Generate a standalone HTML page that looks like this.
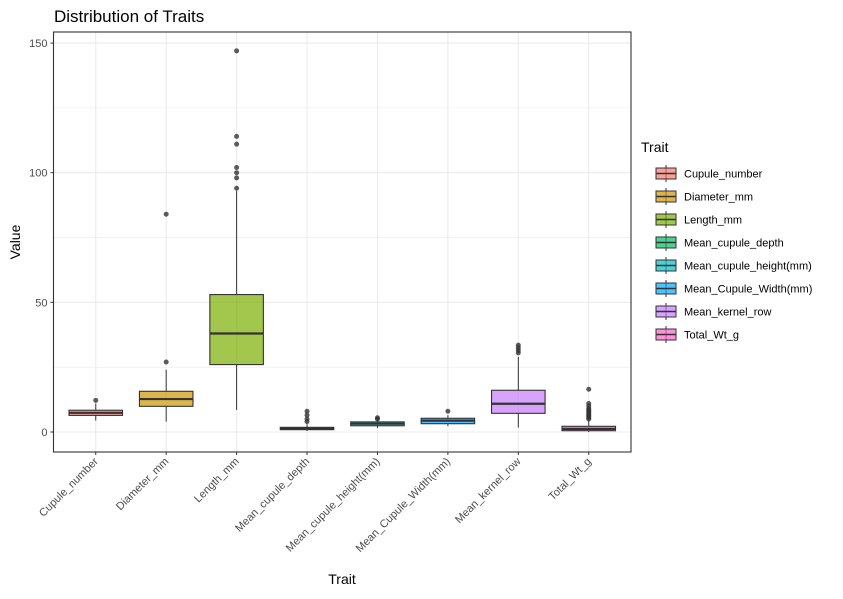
<!DOCTYPE html>
<html><head><meta charset="utf-8"><style>body{margin:0;background:#fff}svg{font-family:"Liberation Sans",sans-serif}</style></head>
<body>
<svg id="c" width="843" height="594" xmlns="http://www.w3.org/2000/svg"></svg>
<script>
const categories=["Cupule_number","Diameter_mm","Length_mm","Mean_cupule_depth","Mean_cupule_height(mm)","Mean_Cupule_Width(mm)","Mean_kernel_row","Total_Wt_g"];
const colors=["#F8766D","#CD9600","#7CAE00","#00BE67","#00BFC4","#00A9FF","#C77CFF","#FF61CC"];
const q1=[6.4,9.9,26,0.9,2.4,3.2,7.2,0.5];
const med=[7.4,12.7,38,1.3,3.2,4.4,10.9,1.2];
const q3=[8.4,15.7,53,1.8,3.9,5.3,16.1,2.2];
const wlo=[4.4,4,8.5,0.4,1.5,2.3,1.7,0];
const whi=[11,24,93,3,4.5,6.5,29,4.5];
const outliers=[[12.2],[27,84],[94,98,100,102,111,114,147],[4,5,6.5,8],[5,5.5],[8],[30.5,31.5,32.5,33.5],[5,5.5,6,6.5,7,7.5,8,8.5,9,10,11,16.5]];
const yTicks=[0,50,100,150];
const L=53.5,R=631,T=32,B=452;
const y=v=>432-v*2.593;
const step=(R-L)/8.2;
const x=i=>L+(i+0.6)*step;
const svg=document.getElementById('c');
const NS="http://www.w3.org/2000/svg";
function mk(t,a,p){const e=document.createElementNS(NS,t);for(const k in a)e.setAttribute(k,a[k]);(p||svg).appendChild(e);return e;}
let e;
e=mk('rect',{x:L,y:T,width:R-L,height:B-T,fill:'#fff'});


// minor grid
for(let v=-25;v<=175;v+=50){if(y(v)>T&&y(v)<B)mk('line',{x1:L,x2:R,y1:y(v),y2:y(v),stroke:'#ebebeb','stroke-width':0.6});}
yTicks.forEach(v=>{e=mk('line',{x1:L,x2:R,y1:y(v),y2:y(v),stroke:'#ebebeb','stroke-width':1.1});


e=mk('line',{x1:L-3,x2:L,y1:y(v),y2:y(v),stroke:'#333'});
e=mk('text',{x:L-6,y:y(v)+4,'text-anchor':'end','font-size':11,fill:'#4d4d4d'});e.textContent=v;

});
categories.forEach((c,i)=>{mk('line',{x1:x(i),x2:x(i),y1:T,y2:B,stroke:'#ebebeb','stroke-width':1.1});});
const bw=step*0.76;
categories.forEach((c,i)=>{const g=mk('g',{});


const cx=x(i);
mk('line',{x1:cx,x2:cx,y1:y(whi[i]),y2:y(q3[i]),stroke:'#333'},g);
mk('line',{x1:cx,x2:cx,y1:y(q1[i]),y2:y(wlo[i]),stroke:'#333'},g);
mk('rect',{x:cx-bw/2,y:y(q3[i]),width:bw,height:y(q1[i])-y(q3[i]),fill:colors[i],'fill-opacity':0.7,stroke:'#333','stroke-width':1.1},g);
mk('line',{x1:cx-bw/2,x2:cx+bw/2,y1:y(med[i]),y2:y(med[i]),stroke:'#333','stroke-width':2.2},g);
outliers[i].forEach(o=>{const p=mk('circle',{cx:cx,cy:y(o),r:2.5,fill:'#333','fill-opacity':0.8},g);

});
mk('line',{x1:cx,x2:cx,y1:B,y2:B+3,stroke:'#333'});
const t=mk('text',{transform:`translate(${cx+3},${B+10}) rotate(-45)`,'text-anchor':'end','font-size':11,fill:'#4d4d4d'});t.textContent=c;

});
e=mk('rect',{x:L,y:T,width:R-L,height:B-T,fill:'none',stroke:'#333','stroke-width':1.1});


e=mk('text',{x:54,y:22,'font-size':17,fill:'#000'});e.textContent='Distribution of Traits';


e=mk('text',{x:342,y:584,'text-anchor':'middle','font-size':14,fill:'#000'});e.textContent='Trait';


e=mk('text',{transform:'translate(20,242) rotate(-90)','text-anchor':'middle','font-size':14,fill:'#000'});e.textContent='Value';


e=mk('text',{x:641,y:152,'font-size':14,fill:'#000'});e.textContent='Trait';


categories.forEach((c,i)=>{const g=mk('g',{});


const ky=165+i*23;
mk('line',{x1:666,x2:666,y1:ky,y2:ky+17,stroke:'#333'},g);
mk('rect',{x:656,y:ky+3,width:20,height:11,fill:colors[i],'fill-opacity':0.7,stroke:'#333'},g);
mk('line',{x1:656,x2:676,y1:ky+8.5,y2:ky+8.5,stroke:'#333','stroke-width':1.5},g);
const t=mk('text',{x:684,y:ky+12.5,'font-size':11,fill:'#000'},g);t.textContent=c;});
</script>
</body></html>
